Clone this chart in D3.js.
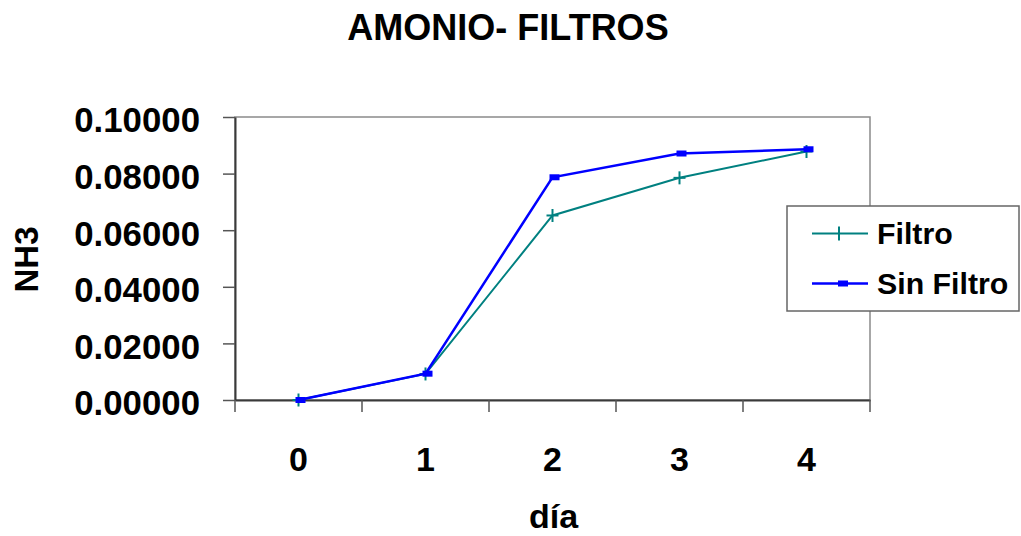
<!DOCTYPE html>
<html>
<head>
<meta charset="utf-8">
<script src="https://cdn.jsdelivr.net/npm/d3@7"></script>
<style>
  html, body { margin: 0; padding: 0; background: #fff; }
  svg { display: block; font-family: "Liberation Sans", Arial, sans-serif; font-weight: bold; }
</style>
</head>
<body>
<svg id="chart" width="1021" height="536"></svg>
<script>
// Ammonia (NH3) per day, with and without filter
const days = ["0", "1", "2", "3", "4"];
const filtro = [0.0000, 0.0092, 0.0652, 0.0785, 0.0878];
const sinFiltro = [0.0000, 0.0093, 0.0787, 0.0871, 0.0886];
const yTicks = [0, 0.02, 0.04, 0.06, 0.08, 0.10];
const seriesNames = ["Filtro", "Sin Filtro"];

const svg = d3.select("#chart");
const plot = { left: 235, right: 870, top: 117, bottom: 400 };

const x = d3.scaleBand().domain(days).range([plot.left, plot.right]).padding(0);
const y = d3.scaleLinear().domain([0, 0.1]).range([plot.bottom, plot.top]);

// Plot frame: light top/right border
svg.append("rect")
  .attr("x", plot.left).attr("y", plot.top)
  .attr("width", plot.right - plot.left).attr("height", plot.bottom - plot.top)
  .attr("fill", "#fff").attr("stroke", "#8a8a8a").attr("stroke-width", 1.5);

// Y axis
const yAxis = svg.append("g")
  .attr("transform", `translate(${plot.left},0)`)
  .call(d3.axisLeft(y).tickValues(yTicks).tickFormat(d3.format(".5f"))
    .tickSize(12).tickSizeOuter(0).tickPadding(23));
yAxis.select(".domain").attr("stroke", "#3a3a3a").attr("stroke-width", 2);
yAxis.selectAll(".tick line").attr("stroke", "#555").attr("stroke-width", 1.5);
yAxis.selectAll(".tick text")
  .attr("dy", "0.43em")
  .style("font-size", "34.8px").style("font-weight", "bold")
  .style("font-family", "'Liberation Sans', Arial, sans-serif")
  .attr("fill", "#000");

// X axis: labels at category centres, tick marks at category boundaries
const xAxis = svg.append("g")
  .attr("transform", `translate(0,${plot.bottom})`)
  .call(d3.axisBottom(x).tickSize(0).tickSizeOuter(0).tickPadding(47));
xAxis.select(".domain").attr("stroke", "#3a3a3a").attr("stroke-width", 2);
xAxis.selectAll(".tick text")
  .style("font-size", "34px").style("font-weight", "bold")
  .style("font-family", "'Liberation Sans', Arial, sans-serif")
  .attr("fill", "#000");

const boundaries = d3.range(days.length + 1).map(i => plot.left + i * x.step());
xAxis.selectAll("line.bound").data(boundaries).join("line")
  .attr("class", "bound")
  .attr("x1", d => d).attr("x2", d => d)
  .attr("y1", 0).attr("y2", 12)
  .attr("stroke", "#555").attr("stroke-width", 1.5);

// Title and axis titles
svg.append("text").attr("x", 508).attr("y", 39.5).attr("text-anchor", "middle")
  .style("font-size", "36px").text("AMONIO- FILTROS");
svg.append("text").attr("x", (plot.left + plot.right) / 2 + 1).attr("y", 528).attr("text-anchor", "middle")
  .style("font-size", "34px").text("día");
svg.append("text")
  .attr("transform", `translate(38,${(plot.top + plot.bottom) / 2 + 1}) rotate(-90)`)
  .attr("text-anchor", "middle")
  .style("font-size", "33px").text("NH3");

const cx = d => x(d) + x.bandwidth() / 2;
const line = d3.line().x((d, i) => cx(days[i])).y(d => y(d));

const teal = "#008080", blue = "#0000ff";

// Filtro series with plus markers
svg.append("path").datum(filtro).attr("d", line)
  .attr("fill", "none").attr("stroke", teal).attr("stroke-width", 2);
const plus = svg.append("g").selectAll("g").data(filtro).join("g")
  .attr("transform", (d, i) => `translate(${cx(days[i])},${y(d)})`);
plus.append("line").attr("x1", -6).attr("x2", 6).attr("stroke", teal).attr("stroke-width", 2);
plus.append("line").attr("y1", -6.5).attr("y2", 6.5).attr("stroke", teal).attr("stroke-width", 2);

// Sin Filtro series with square markers
svg.append("path").datum(sinFiltro).attr("d", line)
  .attr("fill", "none").attr("stroke", blue).attr("stroke-width", 2.5);
svg.append("g").selectAll("rect").data(sinFiltro).join("rect")
  .attr("x", (d, i) => cx(days[i]) - 3).attr("y", d => y(d) - 3)
  .attr("width", 10).attr("height", 6).attr("fill", blue);

// Legend
const legend = svg.append("g");
legend.append("rect").attr("x", 787).attr("y", 206).attr("width", 232).attr("height", 105)
  .attr("fill", "#fff").attr("stroke", "#666").attr("stroke-width", 1.5);
const rows = [
  { name: seriesNames[0], color: teal, y: 233.5, w: 2 },
  { name: seriesNames[1], color: blue, y: 283.5, w: 2.5 }
];
rows.forEach((r, i) => {
  legend.append("line").attr("x1", 812).attr("x2", 868).attr("y1", r.y).attr("y2", r.y)
    .attr("stroke", r.color).attr("stroke-width", r.w);
  if (i === 0) {
    legend.append("line").attr("x1", 839).attr("x2", 839).attr("y1", r.y - 7).attr("y2", r.y + 7)
      .attr("stroke", r.color).attr("stroke-width", 2);
  } else {
    legend.append("rect").attr("x", 838).attr("y", r.y - 3).attr("width", 10).attr("height", 6)
      .attr("fill", r.color);
  }
  legend.append("text").attr("x", 877).attr("y", r.y + 10)
    .style("font-size", "30.3px").text(r.name);
});
</script>
</body>
</html>
